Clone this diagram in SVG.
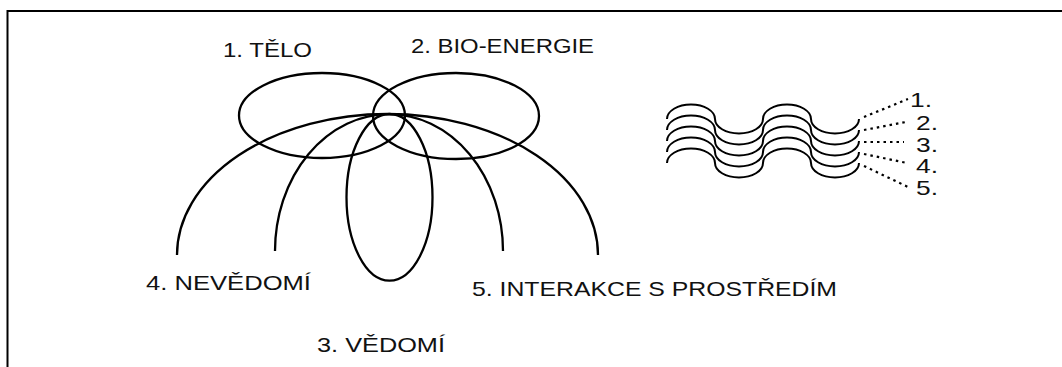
<svg xmlns="http://www.w3.org/2000/svg" width="1062" height="367" viewBox="0 0 1062 367">
<style>
.c{fill:none;stroke:#000;stroke-width:2.3}
.w{fill:none;stroke:#000;stroke-width:2}
.d{fill:none;stroke:#000;stroke-width:2.2;stroke-dasharray:2.5 4}
.t{font-family:"Liberation Sans",Arial,sans-serif;font-size:21px;fill:#111}
</style>
<rect x="0" y="0" width="1062" height="367" fill="#fff"/>
<path d="M7.5,367 V11 H1062" fill="none" stroke="#000" stroke-width="2"/>
<g id="connectors">
<path class="c" d="M177,255 A210.5,141 0 0 1 598,255"/>
<path class="c" d="M275,251 A114,137 0 0 1 503,251"/>
</g>
<g id="n1"><ellipse class="c" cx="322" cy="115.5" rx="83" ry="42.5"/><text class="t" x="223" y="57" textLength="89" lengthAdjust="spacingAndGlyphs">1. TĚLO</text></g>
<g id="n2"><ellipse class="c" cx="456" cy="116" rx="83" ry="43"/><text class="t" x="411" y="53" textLength="183" lengthAdjust="spacingAndGlyphs">2. BIO-ENERGIE</text></g>
<g id="n3"><ellipse class="c" cx="389.5" cy="197.3" rx="43" ry="83.3"/><text class="t" x="317" y="352" textLength="128" lengthAdjust="spacingAndGlyphs">3. VĚDOMÍ</text></g>
<g id="n4"><text class="t" x="146" y="290" textLength="165" lengthAdjust="spacingAndGlyphs">4. NEVĚDOMÍ</text></g>
<g id="n5"><text class="t" x="472" y="296" textLength="365" lengthAdjust="spacingAndGlyphs">5. INTERAKCE S PROSTŘEDÍM</text></g>
<g id="waves">
<path class="w" d="M667,119 A24,14.5 0 0 1 715,119 A24,14.5 0 0 0 763,119 A24,14.5 0 0 1 811,119 A24,14.5 0 0 0 859,119"/>
<path class="w" d="M667,130 A24,14.5 0 0 1 715,130 A24,14.5 0 0 0 763,130 A24,14.5 0 0 1 811,130 A24,14.5 0 0 0 859,130"/>
<path class="w" d="M667,141 A24,14.5 0 0 1 715,141 A24,14.5 0 0 0 763,141 A24,14.5 0 0 1 811,141 A24,14.5 0 0 0 859,141"/>
<path class="w" d="M667,152 A24,14.5 0 0 1 715,152 A24,14.5 0 0 0 763,152 A24,14.5 0 0 1 811,152 A24,14.5 0 0 0 859,152"/>
<path class="w" d="M667,163 A24,14.5 0 0 1 715,163 A24,14.5 0 0 0 763,163 A24,14.5 0 0 1 811,163 A24,14.5 0 0 0 859,163"/>
</g>
<g id="layer-connectors">
<path class="d" d="M864,117 L908,99"/>
<path class="d" d="M864,130 L906,122"/>
<path class="d" d="M864,142 L904,142"/>
<path class="d" d="M864,154 L907,163"/>
<path class="d" d="M864,166 L908,187"/>
</g>
<g id="layer-labels">
<text class="t" x="910" y="107" textLength="22" lengthAdjust="spacingAndGlyphs">1.</text>
<text class="t" x="916" y="130" textLength="22" lengthAdjust="spacingAndGlyphs">2.</text>
<text class="t" x="916" y="152" textLength="22" lengthAdjust="spacingAndGlyphs">3.</text>
<text class="t" x="916" y="173" textLength="22" lengthAdjust="spacingAndGlyphs">4.</text>
<text class="t" x="916" y="195" textLength="22" lengthAdjust="spacingAndGlyphs">5.</text>
</g>
</svg>
